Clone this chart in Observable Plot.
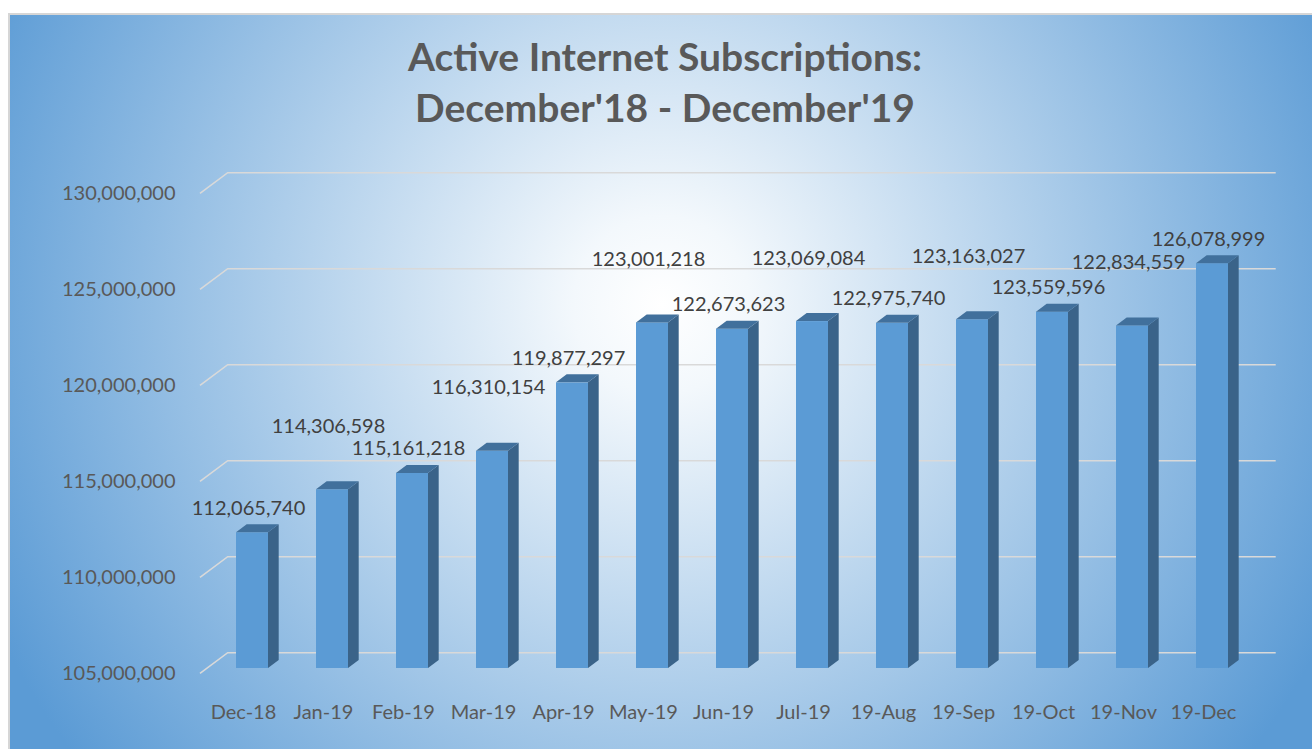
<!DOCTYPE html>
<html>
<head>
<meta charset="utf-8">
<script src="https://cdn.jsdelivr.net/npm/d3@7"></script>
<script src="https://cdn.jsdelivr.net/npm/@observablehq/plot@0.6"></script>
<style>
  html, body { margin: 0; padding: 0; background: #ffffff; }
  #root { position: relative; width: 1312px; height: 749px; overflow: hidden; font-family: Lato, "Open Sans", sans-serif; }
  #bg { position: absolute; left: 8px; top: 13px; right: 0; bottom: 0;
        border-left: 2px solid #d6d6d6; border-top: 2px solid #d6d6d6;
        background: radial-gradient(circle 740px at 652px 290px, #ffffff 0%, #f3f8fc 12%, #5b9bd5 100%); }
  #title { position: absolute; left: 0; width: 1330px; top: 31px; text-align: center;
           font-weight: 700; font-size: 39px; line-height: 51px; color: #595959; }
  #chart { position: absolute; left: 0; top: 140px; }
</style>
</head>
<body>
<div id="root">
  <div id="bg"></div>
  <div id="title"></div>
  <div id="chart"></div>
</div>
<script>
// ---- data ----
const titleLines = ["Active Internet Subscriptions:", "December'18 - December'19"];
const months = ["Dec-18", "Jan-19", "Feb-19", "Mar-19", "Apr-19", "May-19", "Jun-19",
                "Jul-19", "19-Aug", "19-Sep", "19-Oct", "19-Nov", "19-Dec"];
const subscriptions = [112065740, 114306598, 115161218, 116310154, 119877297, 123001218,
                       122673623, 123069084, 122975740, 123163027, 123559596, 122834559, 126078999];
const yTicks = [105000000, 110000000, 115000000, 120000000, 125000000, 130000000];
const yBase = 105000000;

const table = months.map((m, i) => ({month: m, value: subscriptions[i], i}));
const fmt = d3.format(",");

document.getElementById("title").innerHTML = titleLines.map(t => `<div>${t}</div>`).join("");

// 3D look constants
const depthX = 10.7, depthY = 8;

// gridlines in a receding back plane (drawn with the y scale)
function grid(index, scales, values, dims) {
  const y = scales.y;
  const left = dims.marginLeft, right = dims.width - dims.marginRight;
  const g = d3.create("svg:g").attr("fill", "none").attr("stroke", "#d9d9d9").attr("stroke-width", 1.6);
  for (const t of yTicks) {
    const yy = y(t);
    g.append("path").attr("d",
      `M${left + 15.5},${yy + 5.3}L${left + 43.2},${yy - 15.3}L${right - 4.5},${yy - 15.3}`);
  }
  return g.node();
}

// side and top faces of each bar
function faces(index, scales, values, dims) {
  const x = scales.x, y = scales.y;
  const bw = typeof x.bandwidth === "function" ? x.bandwidth() : x.bandwidth;
  const g = d3.create("svg:g");
  for (const d of table) {
    const x0 = x(d.month), x1 = x0 + bw;
    const yt = y(d.value), yb = y(yBase);
    g.append("path").attr("fill", "#3a6389")
      .attr("d", `M${x1},${yt}L${x1 + depthX},${yt - depthY}L${x1 + depthX},${yb - depthY}L${x1},${yb}Z`);
    g.append("path").attr("fill", "#41709c")
      .attr("d", `M${x0},${yt}L${x0 + depthX},${yt - depthY}L${x1 + depthX},${yt - depthY}L${x1},${yt}Z`);
  }
  return g.node();
}

const labelStyle = {x: "month", y: "value", text: d => fmt(d.value), dx: -4,
                    lineAnchor: "bottom", fill: "#404040", fontSize: 20};

const chart = Plot.plot({
  width: 1312,
  height: 609,
  marginLeft: 184.5,
  marginRight: 31.8,
  marginTop: 48,
  marginBottom: 81,
  style: {background: "transparent", fontFamily: "Lato, 'Open Sans', sans-serif", fontSize: "20px", color: "#595959", overflow: "visible"},
  x: {domain: months, padding: 0.594, label: null},
  y: {domain: [yBase, 130000000], label: null},
  marks: [
    grid,
    Plot.barY(table, {x: "month", y1: yBase, y2: "value", fill: "#5b9bd5"}),
    faces,
    // labels staggered in two rows so neighbouring values stay readable
    Plot.text(table.filter(d => d.i % 2 === 0), {...labelStyle, dy: -18}),
    Plot.text(table.filter(d => d.i % 2 === 1), {...labelStyle, dy: -57}),
    Plot.axisY({ticks: yTicks, tickFormat: fmt, tickSize: 0, tickPadding: 9.5, dy: 5,
                fill: "#595959", fontSize: 20, label: null}),
    Plot.axisX({tickSize: 0, tickPadding: 36, dx: -9, fill: "#595959", fontSize: 20, label: null})
  ]
});
document.getElementById("chart").appendChild(chart);
</script>
</body>
</html>
